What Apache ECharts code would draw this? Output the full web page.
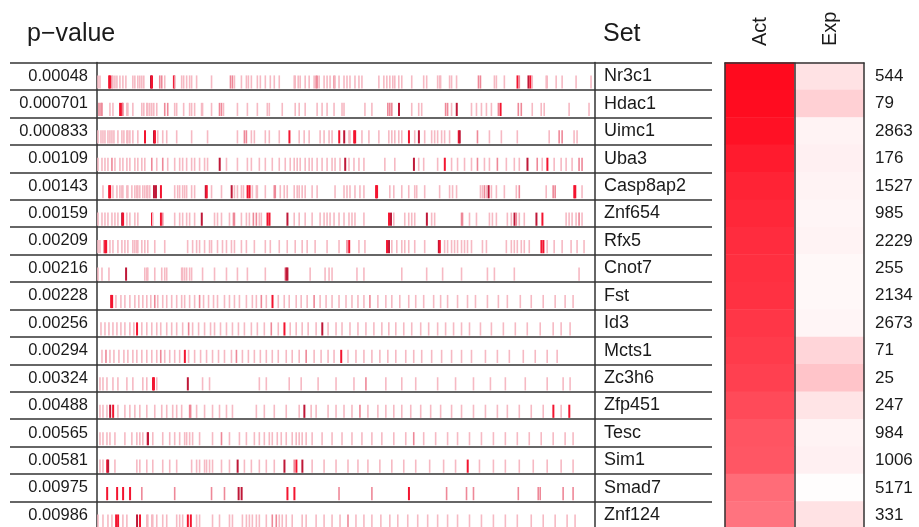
<!DOCTYPE html>
<html>
<head>
<meta charset="utf-8">
<script src="https://cdn.jsdelivr.net/npm/echarts@6/dist/echarts.min.js"></script>
<style>
  html, body { margin: 0; padding: 0; background: #fff; }
  #chart { width: 919px; height: 527px; }
</style>
</head>
<body>
<div id="chart"></div>
<script>
// gene sets, top to bottom
const sets = ['Nr3c1', 'Hdac1', 'Uimc1', 'Uba3', 'Casp8ap2', 'Znf654', 'Rfx5', 'Cnot7', 'Fst',
  'Id3', 'Mcts1', 'Zc3h6', 'Zfp451', 'Tesc', 'Sim1', 'Smad7', 'Znf124'];
const pValues = ['0.00048', '0.000701', '0.000833', '0.00109', '0.00143', '0.00159', '0.00209', '0.00216',
  '0.00228', '0.00256', '0.00294', '0.00324', '0.00488', '0.00565', '0.00581', '0.00975', '0.00986'];
const setSizes = ['544', '79', '2863', '176', '1527', '985', '2229', '255', '2134', '2673', '71', '25',
  '247', '984', '1006', '5171', '331'];
const heatColumns = ['Act', 'Exp'];
// heatmap columns (0 = white, 1 = full red)
const actScores = [1.0, 0.99, 0.97, 0.93, 0.9, 0.88, 0.86, 0.85, 0.84, 0.82, 0.8, 0.78, 0.74, 0.7, 0.69, 0.6, 0.57];
const expScores = [0.12, 0.19, 0.05, 0.06, 0.05, 0.04, 0.05, 0.03, 0.03, 0.04, 0.17, 0.24, 0.11, 0.05, 0.06, 0.01, 0.12];

// barcode ticks per set: [rank position 0..500, intensity 1..4]
const barcodeTicks = [
  [[1,1],[3,1],[12,3],[13,3],[15,2],[16,1],[18,1],[20,1],[23,1],[26,1],[29,1],[36,1],[38,1],[41,1],[43,1],[45,1],[47,1],[54,4],[55,3],[63,2],[65,2],[68,1],[77,3],[78,2],[85,1],[87,1],[90,1],[93,1],[95,1],[100,1],[115,1],[134,2],[136,2],[138,1],[145,1],[150,1],[152,1],[155,1],[161,1],[164,1],[169,1],[174,1],[178,1],[183,1],[198,1],[199,1],[202,1],[204,1],[209,1],[213,1],[218,1],[220,2],[221,2],[223,1],[228,1],[231,1],[234,1],[238,2],[239,1],[243,1],[248,1],[251,1],[254,1],[259,1],[263,1],[266,1],[283,1],[288,1],[291,1],[294,1],[297,1],[299,1],[303,1],[306,1],[316,1],[328,1],[331,1],[342,1],[344,1],[345,1],[354,1],[356,1],[361,1],[383,2],[385,2],[399,1],[401,1],[409,1],[422,3],[424,2],[433,4],[435,3],[437,1],[451,1],[452,1],[461,1],[467,1],[481,1],[496,1]],
  [[2,2],[4,2],[5,2],[13,1],[16,1],[23,3],[25,3],[26,2],[30,1],[31,1],[36,1],[45,1],[47,1],[50,1],[51,1],[53,1],[55,1],[57,1],[60,1],[68,2],[71,2],[78,1],[80,1],[87,1],[93,1],[95,1],[98,1],[105,1],[106,1],[115,1],[123,2],[125,2],[127,1],[141,1],[151,1],[161,1],[171,1],[173,1],[186,1],[199,1],[203,1],[209,1],[221,1],[226,1],[231,1],[238,1],[246,1],[248,1],[269,1],[276,1],[292,2],[294,2],[296,2],[303,4],[316,1],[323,1],[326,1],[350,2],[352,2],[356,1],[361,4],[376,1],[381,1],[386,1],[391,1],[396,1],[403,2],[405,3],[423,2],[426,2],[437,1],[446,1],[449,1],[474,1],[494,1]],
  [[1,1],[4,1],[6,1],[8,1],[11,1],[13,1],[15,1],[17,1],[21,1],[25,1],[27,1],[30,1],[31,1],[33,1],[36,1],[41,1],[48,3],[57,4],[58,3],[61,1],[66,1],[70,1],[80,1],[95,1],[111,1],[141,1],[148,2],[150,2],[155,1],[158,1],[169,1],[173,1],[183,1],[193,3],[203,1],[208,1],[213,1],[224,1],[228,1],[233,1],[236,1],[243,3],[248,4],[253,1],[254,1],[258,3],[259,3],[266,1],[273,1],[283,1],[293,1],[296,1],[299,1],[303,1],[306,1],[313,3],[319,1],[323,4],[329,1],[336,1],[339,1],[342,1],[346,1],[349,1],[354,1],[363,3],[364,4],[382,2],[394,1],[406,1],[422,1],[454,1],[464,2],[467,2],[479,1],[482,1]],
  [[1,1],[5,1],[8,1],[11,1],[15,2],[18,1],[23,1],[26,1],[30,1],[33,1],[38,1],[41,1],[45,1],[48,1],[55,2],[60,1],[66,2],[71,1],[78,1],[83,1],[86,1],[90,1],[95,1],[98,1],[103,1],[108,1],[111,1],[123,4],[130,1],[141,1],[151,1],[155,1],[163,1],[169,1],[176,1],[183,1],[189,1],[194,1],[198,1],[201,1],[204,1],[209,1],[213,1],[216,1],[221,1],[226,1],[231,1],[236,1],[239,1],[244,1],[249,4],[253,1],[258,1],[263,1],[268,1],[289,1],[299,1],[318,4],[323,1],[328,1],[342,1],[349,3],[356,1],[362,1],[369,1],[376,1],[382,2],[389,1],[394,1],[402,2],[411,1],[419,1],[424,1],[432,4],[442,2],[447,1],[452,3],[459,1],[466,1],[471,1],[477,1],[484,2],[487,2]],
  [[6,1],[12,3],[13,3],[16,1],[20,1],[23,1],[25,1],[26,1],[30,1],[31,1],[35,1],[38,1],[40,1],[41,1],[43,1],[46,1],[48,1],[50,1],[51,1],[53,1],[57,4],[59,4],[64,3],[78,1],[81,1],[83,1],[86,1],[88,1],[90,1],[95,1],[98,1],[109,4],[110,3],[115,1],[125,1],[135,4],[138,1],[141,1],[145,1],[147,1],[151,3],[153,3],[156,1],[160,1],[161,1],[169,1],[178,2],[179,2],[184,1],[188,1],[191,1],[198,1],[201,1],[203,1],[206,1],[209,1],[216,1],[221,1],[239,1],[248,1],[251,1],[254,1],[259,1],[264,1],[268,1],[280,3],[281,3],[294,1],[298,1],[306,1],[313,1],[319,1],[321,1],[329,1],[344,1],[354,1],[357,1],[361,1],[385,1],[387,1],[389,2],[391,1],[393,4],[396,1],[401,1],[409,1],[421,1],[424,2],[451,1],[458,2],[460,2],[479,3],[480,3],[487,1]],
  [[1,1],[5,1],[8,1],[11,1],[15,1],[18,1],[21,1],[25,4],[26,3],[30,1],[33,1],[38,1],[41,1],[55,3],[56,1],[64,3],[66,2],[78,1],[83,1],[86,1],[90,1],[93,1],[98,1],[105,4],[118,1],[121,1],[125,1],[133,1],[137,2],[138,2],[145,1],[150,1],[153,1],[157,2],[160,2],[163,1],[165,1],[171,3],[173,3],[191,4],[198,1],[203,1],[209,1],[216,1],[224,1],[228,1],[231,1],[234,1],[238,1],[243,1],[248,1],[253,1],[256,1],[259,1],[268,1],[293,3],[295,4],[298,1],[309,1],[313,1],[316,1],[319,1],[331,4],[336,1],[339,1],[366,2],[367,2],[374,1],[381,1],[394,1],[397,1],[401,1],[412,1],[416,1],[419,4],[421,2],[424,1],[429,1],[441,4],[447,3],[471,1],[474,1],[477,1],[481,1],[484,2],[487,1]],
  [[1,1],[3,1],[7,2],[8,3],[9,3],[13,1],[16,1],[21,1],[25,1],[28,1],[31,1],[36,1],[38,1],[40,1],[41,1],[45,1],[48,1],[51,1],[58,1],[68,1],[91,1],[96,1],[100,1],[103,1],[108,1],[113,1],[115,1],[121,1],[126,1],[130,1],[135,1],[138,1],[145,1],[150,1],[158,1],[169,1],[174,1],[183,1],[191,1],[199,1],[206,1],[211,1],[219,1],[231,1],[243,1],[251,2],[253,3],[263,1],[269,1],[291,3],[293,4],[296,1],[301,1],[306,1],[309,1],[313,1],[319,1],[329,1],[343,4],[344,3],[349,1],[352,1],[356,1],[359,1],[362,1],[366,1],[369,1],[372,1],[376,1],[387,1],[391,1],[411,1],[416,1],[419,1],[422,1],[426,1],[429,1],[434,1],[446,3],[448,3],[452,1],[459,1],[467,1],[476,1],[482,1],[489,1]],
  [[1,1],[5,1],[12,1],[29,4],[48,1],[50,1],[51,1],[58,1],[65,1],[68,1],[70,1],[85,1],[86,1],[88,1],[90,1],[93,1],[95,1],[106,1],[118,1],[130,1],[141,1],[151,1],[169,1],[189,2],[190,4],[191,4],[214,1],[229,1],[233,1],[236,1],[261,1],[268,1],[306,1],[331,1],[347,1],[366,1],[392,1],[399,1],[419,1],[484,1]],
  [[14,3],[15,3],[19,1],[24,1],[28,1],[33,1],[38,1],[42,1],[46,1],[50,1],[54,1],[58,2],[61,1],[66,1],[70,1],[75,1],[80,1],[85,1],[88,1],[93,1],[98,1],[103,2],[107,1],[112,1],[117,1],[121,1],[128,1],[133,1],[138,1],[143,1],[150,1],[156,1],[160,1],[165,2],[170,1],[176,3],[182,1],[188,1],[193,1],[200,1],[205,1],[211,1],[218,2],[224,1],[230,1],[236,1],[243,1],[250,1],[256,1],[262,1],[268,1],[274,2],[282,1],[290,1],[296,1],[304,1],[313,1],[320,1],[328,1],[338,1],[345,1],[352,1],[362,1],[372,1],[380,1],[392,1],[403,1],[412,1],[425,1],[436,1],[448,1],[460,1],[470,1],[478,1]],
  [[4,1],[8,1],[12,1],[16,1],[20,1],[24,1],[28,1],[33,1],[37,1],[40,3],[45,1],[50,1],[55,1],[60,1],[64,1],[70,1],[75,1],[80,1],[86,1],[92,2],[96,1],[102,1],[108,1],[114,1],[118,1],[124,1],[130,1],[136,1],[142,1],[148,1],[155,1],[161,1],[168,1],[175,2],[182,1],[188,3],[194,1],[200,1],[206,1],[212,1],[220,1],[226,4],[232,1],[240,1],[246,1],[254,1],[262,1],[270,1],[278,1],[286,1],[293,1],[300,1],[308,1],[316,1],[325,1],[333,1],[342,1],[350,1],[358,1],[366,1],[374,1],[385,1],[396,1],[408,1],[420,1],[432,1],[445,1],[458,1],[466,1],[475,1]],
  [[5,1],[9,2],[13,1],[17,1],[22,1],[27,1],[31,1],[36,1],[40,1],[45,1],[50,1],[55,1],[60,1],[64,2],[68,1],[73,1],[78,1],[83,1],[88,3],[92,1],[98,1],[104,1],[110,1],[116,1],[122,1],[128,1],[135,1],[140,2],[146,1],[152,1],[158,1],[164,1],[170,1],[176,1],[182,1],[190,1],[196,1],[203,1],[210,2],[218,1],[225,1],[232,1],[238,1],[245,3],[252,1],[260,1],[268,1],[276,1],[284,1],[292,1],[300,1],[310,1],[318,1],[326,1],[336,1],[346,1],[356,1],[366,1],[376,1],[390,1],[402,1],[414,1],[428,1],[440,1],[452,1],[462,1]],
  [[3,1],[6,1],[10,1],[16,1],[21,1],[30,1],[36,1],[46,1],[50,1],[56,3],[57,3],[60,1],[91,4],[106,1],[113,1],[163,1],[170,1],[193,1],[205,1],[222,1],[240,1],[258,1],[270,2],[290,1],[306,1],[320,1],[342,1],[360,1],[378,1],[395,1],[410,1],[430,1],[452,1],[468,1],[475,1]],
  [[3,1],[6,1],[10,1],[13,4],[16,3],[21,1],[28,1],[33,1],[38,1],[43,1],[50,1],[58,1],[65,1],[70,1],[76,1],[80,1],[85,1],[93,2],[94,2],[100,1],[108,1],[116,1],[123,1],[130,1],[136,1],[160,1],[168,1],[178,1],[190,1],[203,1],[208,4],[215,1],[220,1],[232,1],[240,1],[248,1],[256,1],[264,2],[272,1],[282,1],[290,1],[298,1],[306,1],[315,1],[325,1],[335,1],[345,1],[356,1],[366,1],[378,1],[390,1],[402,1],[412,1],[424,1],[436,1],[448,1],[458,3],[466,1],[474,3]],
  [[3,1],[6,1],[10,1],[13,1],[18,1],[28,1],[35,1],[40,1],[43,1],[46,1],[50,1],[51,4],[56,1],[66,1],[73,1],[78,1],[83,1],[88,1],[90,1],[93,1],[96,1],[103,1],[116,1],[125,2],[133,1],[143,1],[150,1],[158,1],[163,1],[168,1],[173,1],[176,1],[181,1],[185,1],[190,1],[196,1],[200,1],[203,1],[206,1],[210,1],[216,1],[226,1],[236,1],[246,1],[256,1],[266,1],[276,1],[286,1],[298,1],[310,1],[318,2],[328,1],[340,1],[352,1],[362,1],[374,1],[386,1],[398,1],[410,1],[422,1],[434,1],[446,1],[458,1],[470,1],[478,1]],
  [[3,1],[6,1],[10,3],[11,4],[18,1],[40,1],[43,1],[50,1],[56,1],[66,1],[73,1],[80,1],[95,1],[100,1],[103,1],[108,1],[110,1],[113,1],[116,1],[125,1],[133,1],[141,4],[148,1],[155,1],[163,1],[170,1],[178,1],[188,4],[198,2],[200,3],[206,4],[216,1],[228,1],[240,1],[252,1],[262,1],[272,1],[284,1],[296,1],[308,1],[320,1],[334,1],[348,1],[360,1],[372,3],[384,1],[398,1],[410,1],[424,1],[438,1],[452,1],[466,1],[478,1]],
  [[10,3],[20,3],[26,3],[33,3],[45,2],[78,2],[115,2],[128,2],[142,4],[145,4],[191,3],[198,3],[243,2],[276,2],[313,3],[351,2],[371,2],[378,2],[423,2],[443,2],[445,2],[468,2],[478,2]],
  [[1,1],[6,1],[11,1],[15,1],[19,3],[21,3],[26,1],[30,1],[40,4],[43,3],[50,1],[51,1],[55,1],[56,1],[60,1],[66,1],[70,1],[80,1],[83,1],[86,1],[91,3],[94,3],[100,1],[103,1],[116,1],[123,1],[133,1],[136,1],[146,1],[150,1],[153,1],[156,1],[160,1],[163,1],[170,1],[176,2],[180,2],[183,1],[186,1],[190,1],[196,1],[206,1],[210,1],[220,1],[228,1],[236,1],[244,1],[252,2],[260,1],[268,1],[276,1],[285,1],[294,1],[302,1],[312,1],[322,1],[332,1],[342,1],[352,1],[362,1],[374,1],[386,1],[398,1],[410,1],[422,1],[436,1],[448,1],[460,1],[472,1],[480,1]]
];

const FONT = '"Liberation Sans", Arial, sans-serif';
const LINE = '#333';
const TEXT = '#1a1a1a';
const tickColors = ['#fff', '#f6b9c3', '#ee8898', '#f31530', '#bf1838'];

const barcodeData = [];
barcodeTicks.forEach((row, r) => {
  row.forEach(t => barcodeData.push([t[0], r, t[1]]));
});

const heatData = [];
sets.forEach((s, r) => {
  heatData.push([0, r, actScores[r]]);
  heatData.push([1, r, expScores[r]]);
});

function renderTick(params, api) {
  const pt = api.coord([api.value(0), api.value(1)]);
  const band = api.size([0, 1])[1];
  const level = api.value(2);
  return {
    type: 'rect',
    shape: { x: pt[0] - 0.8, y: pt[1] - band * 0.03, width: level > 2 ? 2 : 1.6, height: band * 0.48 },
    style: { fill: tickColors[level] }
  };
}

const chart = echarts.init(document.getElementById('chart'));
const labelStyle = { fontFamily: FONT, color: TEXT };

chart.setOption({
  animation: false,
  title: [
    { text: 'p\u2212value', left: 27, top: 22, padding: 0,
      textStyle: { fontSize: 25, fontWeight: 'normal', fontFamily: FONT, color: TEXT } },
    { text: 'Set', left: 603, top: 22, padding: 0,
      textStyle: { fontSize: 25, fontWeight: 'normal', fontFamily: FONT, color: TEXT } }
  ],
  grid: [
    { left: 97, top: 62.5, width: 498, height: 466.5, outerBoundsMode: 'none' },
    { left: 10, top: 62.5, width: 702, height: 466.5, outerBoundsMode: 'none' },
    { left: 725, top: 62.5, width: 139, height: 466.5, outerBoundsMode: 'none' }
  ],
  xAxis: [
    { gridIndex: 0, type: 'value', min: 0, max: 500, show: false },
    { gridIndex: 1, type: 'value', min: 0, max: 1, show: false },
    {
      gridIndex: 2, type: 'category', data: heatColumns, position: 'top', z: 5,
      axisLine: { lineStyle: { color: LINE, width: 1.5 } },
      axisTick: { show: false },
      splitLine: { show: true, lineStyle: { color: LINE, width: 1.5 } },
      axisLabel: { show: false }
    }
  ],
  yAxis: [
    {
      gridIndex: 0, type: 'category', data: pValues, inverse: true, position: 'left',
      axisLine: { lineStyle: { color: LINE, width: 1.5 } },
      axisTick: { show: false },
      axisLabel: Object.assign({ fontSize: 16.5, margin: 9 }, labelStyle)
    },
    {
      gridIndex: 0, type: 'category', data: sets, inverse: true, position: 'right',
      axisLine: { lineStyle: { color: LINE, width: 1.5 } },
      axisTick: { show: false },
      axisLabel: Object.assign({ fontSize: 18, margin: 9 }, labelStyle)
    },
    {
      gridIndex: 1, type: 'value', min: 0, max: 17, interval: 1, inverse: true,
      axisLine: { show: false }, axisTick: { show: false }, axisLabel: { show: false },
      splitLine: { show: true, lineStyle: { color: LINE, width: 1.6 } }
    },
    { gridIndex: 2, type: 'category', data: sets, inverse: true, show: false },
    {
      gridIndex: 2, type: 'category', data: setSizes, inverse: true, position: 'right',
      axisLine: { show: false }, axisTick: { show: false },
      axisLabel: Object.assign({ fontSize: 17, margin: 11, align: 'left' }, labelStyle)
    }
  ],
  visualMap: {
    show: false, min: 0, max: 1, seriesIndex: 1, dimension: 2,
    inRange: { color: ['#ffffff', '#ff0a1e'] }
  },
  series: [
    { type: 'custom', xAxisIndex: 0, yAxisIndex: 0, data: barcodeData, renderItem: renderTick, silent: true },
    { type: 'heatmap', xAxisIndex: 2, yAxisIndex: 3, data: heatData, silent: true }
  ]
});

// rotated column headers above the heatmap, centred on each column
const headers = heatColumns.map((name, i) => {
  const p = chart.convertToPixel({ xAxisIndex: 2, yAxisIndex: 3 }, [i, 0]);
  return {
    type: 'text', x: p[0] + 1, y: 46, rotation: Math.PI / 2,
    style: { text: name, fontSize: 20, fontFamily: FONT, fill: TEXT, align: 'left', verticalAlign: 'middle' }
  };
});
chart.setOption({ graphic: headers });
</script>
</body>
</html>
